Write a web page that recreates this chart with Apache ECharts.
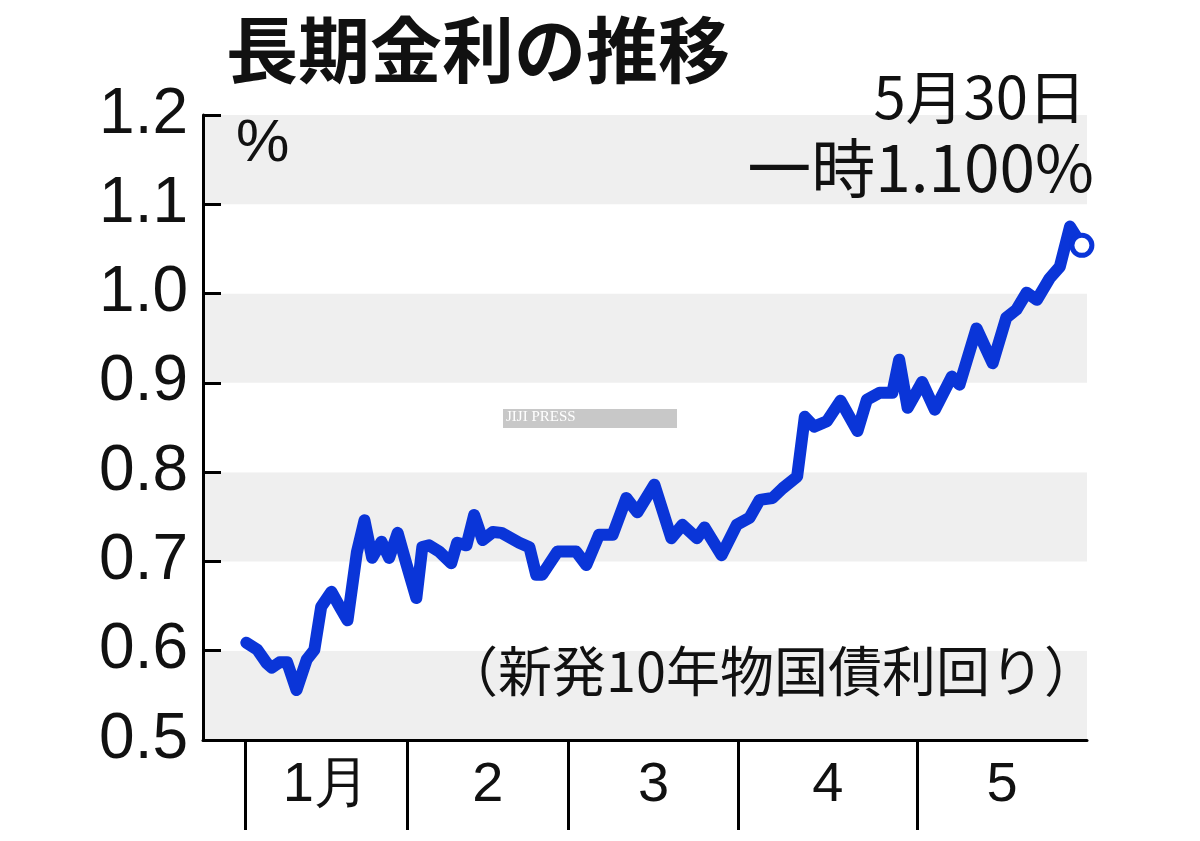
<!DOCTYPE html>
<html><head><meta charset="utf-8">
<script src="https://cdn.jsdelivr.net/npm/echarts@6/dist/echarts.min.js"></script>
<style>html,body{margin:0;padding:0;background:#fff}#c{width:1200px;height:841px}</style>
</head><body><div id="c"></div>
<script>
// trading-day index from Jan 4 and yield (%)
const dayIdx = [0.1,1.4,2.5,3.1,4.0,4.9,6.0,7.2,8.1,8.9,10.1,11.1,12.0,13.1,14.0,14.9,16.0,16.9,17.9,18.9,20.1,20.8,21.6,22.8,24.2,24.9,26.0,26.9,27.9,29.1,30.1,32.2,33.4,34.2,34.9,36.7,38.9,40.1,41.6,43.2,44.8,46.1,48.1,50.1,51.4,53.1,54.0,56.0,57.8,59.3,60.5,62.0,63.2,64.9,65.8,66.9,68.4,70.0,72.0,73.1,74.6,76.1,76.9,77.9,79.6,81.1,83.1,84.0,86.0,87.9,89.5,90.7,91.9,93.1,94.6,95.8,97.0,98.4];
const yields = [0.609,0.601,0.586,0.581,0.587,0.587,0.556,0.590,0.601,0.649,0.666,0.649,0.634,0.710,0.746,0.704,0.722,0.704,0.732,0.698,0.659,0.716,0.718,0.711,0.698,0.721,0.718,0.752,0.724,0.733,0.732,0.721,0.716,0.685,0.685,0.711,0.711,0.696,0.730,0.730,0.771,0.755,0.786,0.726,0.741,0.726,0.738,0.707,0.741,0.749,0.769,0.771,0.782,0.795,0.862,0.851,0.857,0.880,0.846,0.881,0.889,0.889,0.926,0.872,0.901,0.870,0.907,0.898,0.961,0.922,0.973,0.982,1.001,0.993,1.017,1.030,1.075,1.054];
const monthStarts = [0,19,38,58,79];
const monthCenters = [9.5,28.5,48,68.5,89];
const monthLabels = ['1月','2','3','4','5'];

const data = dayIdx.map((x,i)=>[x,yields[i]]);
const F = '"Noto Sans CJK JP","Noto Sans",sans-serif';
const N = '"Liberation Sans",Arial,sans-serif';
const chart = echarts.init(document.getElementById('c'));
chart.setOption({
  animation:false,
  grid:{left:203,right:113,top:115,bottom:101},
  xAxis:{type:'value',min:-5,max:99,
    axisLine:{onZero:false,lineStyle:{color:'#000',width:3}},
    splitLine:{show:false},
    axisTick:{customValues:monthStarts,length:90,lineStyle:{color:'#000',width:3}},
    axisLabel:{customValues:monthCenters,formatter:v=>monthLabels[monthCenters.indexOf(v)],
      fontSize:56,color:'#111',fontFamily:N,margin:18}},
  yAxis:{type:'value',min:0.5,max:1.2,interval:0.1,
    axisLine:{show:true,onZero:false,lineStyle:{color:'#000',width:3}},
    axisTick:{show:true,inside:true,length:18,lineStyle:{color:'#000',width:3}},
    splitLine:{show:false},
    splitArea:{show:true,areaStyle:{color:['#efefef','#ffffff']}},
    axisLabel:{fontSize:64,color:'#111',fontFamily:N,margin:15,formatter:v=>v.toFixed(1)}},
  series:[{type:'line',data:data,symbol:'none',silent:true,
    lineStyle:{color:'#0a35d8',width:12,join:'round',cap:'round'}},
    {type:'scatter',data:[data[data.length-1]],symbol:'circle',symbolSize:20,silent:true,
     itemStyle:{color:'#fff',borderColor:'#0a35d8',borderWidth:5,opacity:1},z:5}],
  graphic:[
    {type:'text',z:100,x:226,y:14,style:{text:'長期金利の推移',font:'bold 72px '+F,fill:'#111'}},
    {type:'text',z:100,x:236,y:114,style:{text:'%',font:'60px '+N,fill:'#111'}},
    {type:'text',z:100,x:1086,y:68,style:{text:'5月30日',font:'58px '+F,fill:'#111',textAlign:'right'}},
    {type:'text',z:100,x:1094,y:136,style:{text:'一時1.100%',font:'64px '+F,fill:'#111',textAlign:'right'}},
    {type:'text',z:100,x:1098,y:644,style:{text:'（新発10年物国債利回り）',font:'54px '+F,fill:'#111',textAlign:'right'}},
    {type:'rect',z:100,x:503,y:409,shape:{width:174,height:19},style:{fill:'#c8c8c8'}},
    {type:'text',z:101,x:506,y:410,style:{text:'JIJI PRESS',font:'15px serif',fill:'#fff'}}
  ]
});
</script></body></html>
